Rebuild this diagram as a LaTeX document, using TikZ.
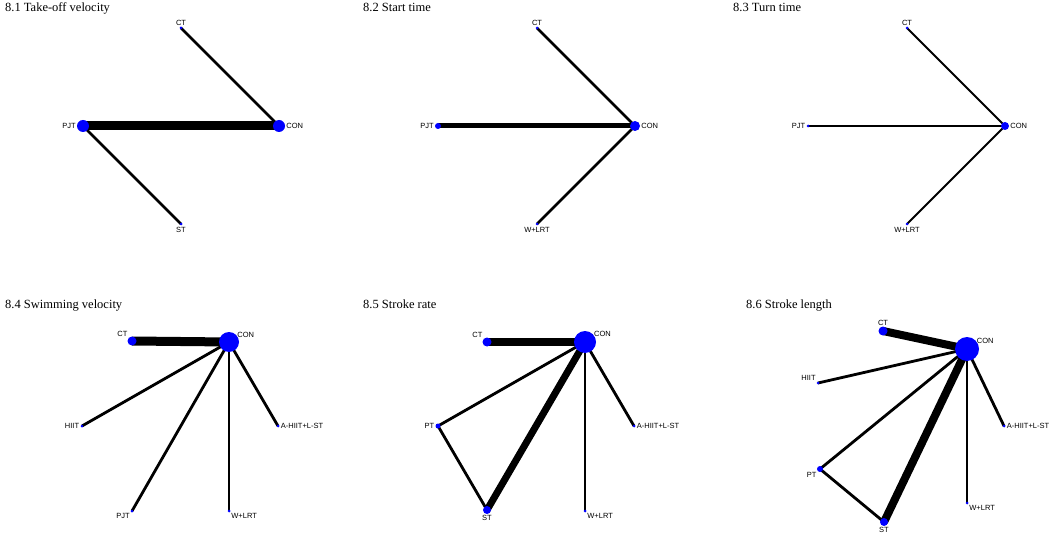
\documentclass[tikz,border=0pt]{standalone}
\usepackage{fontspec}
\setmainfont{Liberation Serif}
\newfontfamily\lab{Liberation Sans}
\usetikzlibrary{backgrounds}
\tikzset{
  dot/.style={circle,fill={rgb,255:red,0;green,0;blue,255},inner sep=0pt,minimum size=#1},
  dot/.default=3pt,
  lbl/.style={font=\lab\fontsize{7.5}{8}\selectfont,inner sep=1pt},
  ttl/.style={font=\fontsize{12.5}{14}\selectfont,anchor=north west,inner sep=0pt},
  ed/.style={line width=#1,draw=black},
  ed/.default=2.8pt
}
\begin{document}
\begin{tikzpicture}[x=1pt,y=-1pt]
\useasboundingbox (0,0) rectangle (1052,537);
% Panel 1
\node[ttl] (t1) at (5,3) {8.1 Take-off velocity};
\node[dot=3pt,label={[lbl]above:CT}] (a1) at (181,28) {};
\node[dot=12pt,label={[lbl]right:CON}] (a2) at (279,126) {};
\node[dot=12pt,label={[lbl]left:PJT}] (a3) at (83,126) {};
\node[dot=3pt,label={[lbl]below:ST}] (a4) at (181,224) {};
% Panel 2
\node[ttl] (t2) at (363,3) {8.2 Start time};
\node[dot=3pt,label={[lbl]above:CT}] (b1) at (537,28) {};
\node[dot=10pt,label={[lbl]right:CON}] (b2) at (635,126) {};
\node[dot=6pt,label={[lbl]left:PJT}] (b3) at (438,126) {};
\node[dot=3pt,label={[lbl]below:W+LRT}] (b4) at (537,224) {};
% Panel 3
\node[ttl] (t3) at (733,3) {8.3 Turn time};
\node[dot=3pt,label={[lbl]above:CT}] (c1) at (907,28) {};
\node[dot=8pt,label={[lbl]right:CON}] (c2) at (1005,126) {};
\node[dot=3pt,label={[lbl]left:PJT}] (c3) at (808,126) {};
\node[dot=3pt,label={[lbl]below:W+LRT}] (c4) at (907,224) {};
% Panel 4
\node[ttl] (t4) at (5,300) {8.4 Swimming velocity};
\node[dot=9pt,label={[lbl]above left:CT}] (d1) at (132,341) {};
\node[dot=20pt,label={[lbl,yshift=-4pt]above right:CON}] (d2) at (229,342) {};
\node[dot=3pt,label={[lbl]left:HIIT}] (d3) at (82,426) {};
\node[dot=3pt,label={[lbl]right:A-HIIT+L-ST}] (d4) at (278,426) {};
\node[dot=3pt,label={[lbl]below left:PJT}] (d5) at (132,511) {};
\node[dot=3pt,label={[lbl]below right:W+LRT}] (d6) at (229,511) {};
% Panel 5
\node[ttl] (t5) at (363,300) {8.5 Stroke rate};
\node[dot=9pt,label={[lbl]above left:CT}] (e1) at (487,342) {};
\node[dot=22pt,label={[lbl,yshift=-4pt]above right:CON}] (e2) at (585,342) {};
\node[dot=5pt,label={[lbl]left:PT}] (e3) at (438,426) {};
\node[dot=8pt,label={[lbl]below:ST}] (e4) at (487,510) {};
\node[dot=3pt,label={[lbl]right:A-HIIT+L-ST}] (e5) at (634,426) {};
\node[dot=3pt,label={[lbl]below right:W+LRT}] (e6) at (585,511) {};
% Panel 6
\node[ttl] (t6) at (746,300) {8.6 Stroke length};
\node[dot=9pt,label={[lbl]above:CT}] (f1) at (883,331) {};
\node[dot=24pt,label={[lbl,yshift=-4pt]above right:CON}] (f2) at (967,349) {};
\node[dot=3pt,label={[lbl]above left:HIIT}] (f3) at (818,383) {};
\node[dot=6pt,label={[lbl]below left:PT}] (f4) at (820,469) {};
\node[dot=8pt,label={[lbl]below:ST}] (f5) at (884,522) {};
\node[dot=3pt,label={[lbl]right:A-HIIT+L-ST}] (f6) at (1004,426) {};
\node[dot=3pt,label={[lbl]below right:W+LRT}] (f7) at (967,503) {};
\begin{pgfonlayer}{background}
\draw[ed] (a1.center) -- (a2.center);
\draw[ed=9pt] (a3.center) -- (a2.center);
\draw[ed] (a3.center) -- (a4.center);
\draw[ed] (b1.center) -- (b2.center);
\draw[ed=5pt] (b3.center) -- (b2.center);
\draw[ed] (b4.center) -- (b2.center);
\draw[ed=2pt] (c1.center) -- (c2.center);
\draw[ed=2pt] (c3.center) -- (c2.center);
\draw[ed=2pt] (c4.center) -- (c2.center);
\draw[ed=9pt] (d1.center) -- (d2.center);
\foreach \n in {d3,d4,d5,d6} \draw[ed] (\n.center) -- (d2.center);
\draw[ed=8pt] (e1.center) -- (e2.center);
\draw[ed=7pt] (e4.center) -- (e2.center);
\foreach \n in {e3,e5,e6} \draw[ed] (\n.center) -- (e2.center);
\draw[ed] (e3.center) -- (e4.center);
\draw[ed=8pt] (f1.center) -- (f2.center);
\draw[ed=8pt] (f5.center) -- (f2.center);
\foreach \n in {f3,f4,f6,f7} \draw[ed] (\n.center) -- (f2.center);
\draw[ed] (f4.center) -- (f5.center);
\end{pgfonlayer}
\end{tikzpicture}
\end{document}
